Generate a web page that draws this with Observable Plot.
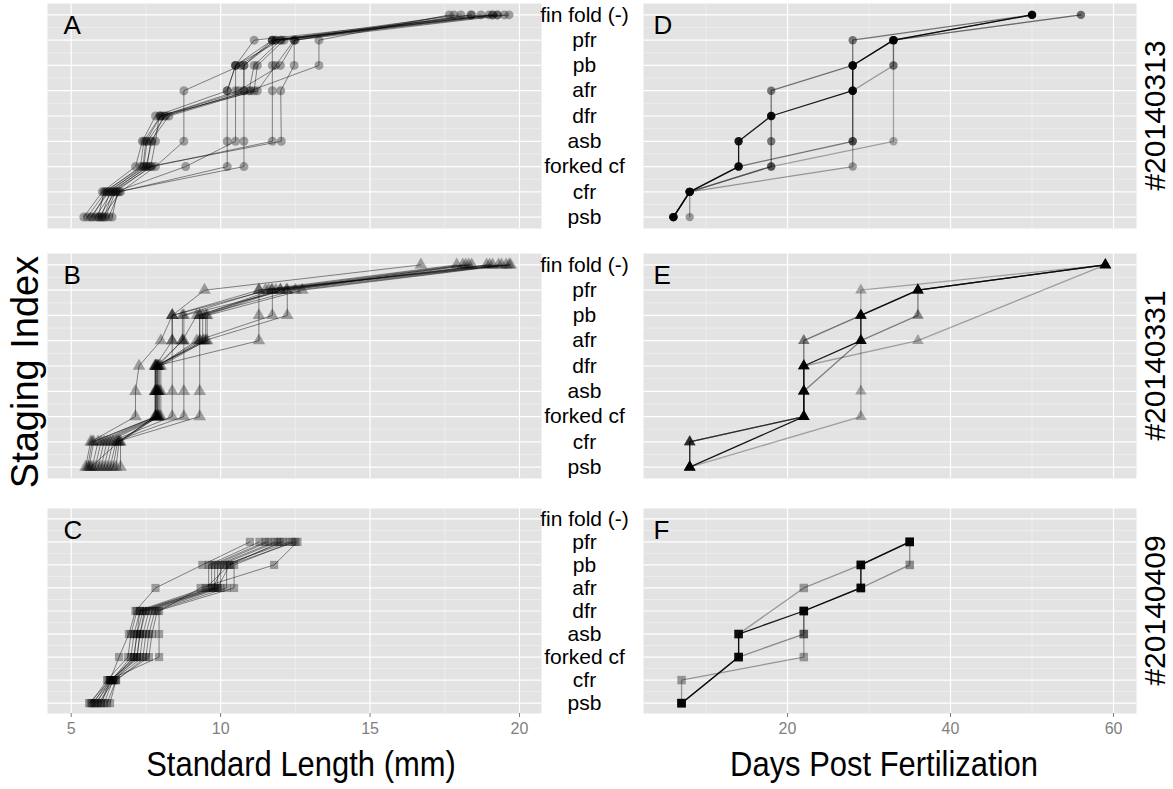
<!DOCTYPE html>
<html>
<head>
<meta charset="utf-8">
<script src="https://cdn.jsdelivr.net/npm/d3@7"></script>
<script src="https://cdn.jsdelivr.net/npm/@observablehq/plot@0.6"></script>
<style>
  body { margin: 0; background: #fff; }
  #chart { position: relative; width: 1173px; height: 789px; overflow: hidden; background: #fff;
           font-family: "Liberation Sans", Arial, Helvetica, sans-serif; }
</style>
</head>
<body>
<div id="chart"></div>
<script>
// ---------------- data ----------------
const stages = ["psb", "cfr", "forked cf", "asb", "dfr", "afr", "pb", "pfr", "fin fold (-)"];
const stageTicks = [1, 2, 3, 4, 5, 6, 7, 8, 9];
const stageMinor = [1.5, 2.5, 3.5, 4.5, 5.5, 6.5, 7.5, 8.5];
const slTicks = [5, 10, 15, 20];
const slMinor = [7.5, 12.5, 17.5];
const dpfTicks = [20, 40, 60];
const dpfMinor = [10, 30, 50];
const strips = ["#20140313", "#20140331", "#20140409"];
const letters = ["A", "B", "C", "D", "E", "F"];
const xTitles = ["Standard Length (mm)", "Days Post Fertilization"];
const yTitle = "Staging Index";

// Standard length (mm) per fish at each stage: psb, cfr, forked cf, asb, dfr, afr, pb, pfr, fin fold (-)
const slA = [
  [5.42, 6.04, 7.15, 7.38, 7.82, 10.22, 10.50, 11.12, 18.98],
  [5.54, 6.15, 7.32, 7.43, 7.99, 10.78, 10.78, 11.73, 19.10],
  [5.65, 6.26, 7.43, 7.54, 8.16, 10.95, 11.12, 12.01, 19.26],
  [5.81, 6.37, 7.54, 7.66, 8.27, 11.12, 11.23, 12.12, 19.49],
  [5.93, 6.48, 7.66, 7.82, 7.95, 11.23, 11.84, 12.46, 19.65],
  [6.04, 6.65, 7.82, 8.77, null, 8.77, 10.67, 11.84, 19.10],
  [6.26, 6.60, 10.22, 10.22, null, 10.22, 10.50, 11.73, 18.71],
  [6.37, 6.55, 10.78, 10.78, null, 10.78, 10.78, 11.84, 19.26],
  [6.15, 6.48, 8.83, 10.50, null, 10.50, 10.50, 12.01, 18.37],
  [6.10, 6.40, 7.70, 11.73, null, 11.73, 11.73, 11.73, 18.04],
  [6.00, 6.30, 7.60, 12.03, null, 12.01, 12.46, 12.46, 17.81],
  [5.70, 6.20, 7.50, 7.70, 8.10, 11.00, 13.29, 13.29, 17.65],
  [5.90, 6.10, 7.40, 7.50, 8.00, 10.60, 12.00, 12.50, 18.40]
];
const slB = [
  [5.48, 5.65, 7.15, 7.15, 7.27, 8.00, 8.38, 9.46, 16.70],
  [5.60, 5.75, 7.82, 7.82, 7.82, 8.38, 8.38, 11.28, 17.90],
  [5.70, 5.90, 7.85, 7.85, 7.85, 8.72, 8.72, 11.50, 18.10],
  [5.80, 6.00, 7.90, 7.90, 7.90, 9.30, 9.30, 11.70, 18.30],
  [5.90, 6.10, 7.95, 7.95, 7.95, 9.40, 9.40, 11.85, 18.90],
  [6.00, 6.20, 8.00, 8.00, 8.00, 9.50, 9.50, 12.00, 19.10],
  [6.10, 6.30, 8.38, 8.38, null, 8.38, 8.38, 11.60, 19.30],
  [6.20, 6.40, 8.77, 8.77, null, 8.77, 8.77, 12.20, 19.40],
  [6.30, 6.50, 9.30, 9.30, null, 9.30, 9.30, 12.50, 19.55],
  [6.50, 6.60, 7.82, 7.82, 7.82, 11.28, 11.28, 11.28, 19.70],
  [6.65, 6.65, 7.90, 7.90, 7.90, 9.20, 11.73, 11.73, 19.00],
  [5.55, 5.70, 7.85, 7.85, 7.85, 9.45, 12.23, 12.23, 18.40],
  [5.65, 6.60, 7.80, 7.80, 7.80, 9.55, 9.55, 12.73, 19.65],
  [6.40, 6.55, 7.90, 7.90, 7.90, 8.72, 9.20, 12.00, 18.20]
];
const slC = [
  [5.60, 6.30, 6.60, 6.93, 7.15, 7.82, 9.39, 10.98, null],
  [5.70, 6.35, 7.00, 7.10, 7.30, 9.60, 9.60, 11.30, null],
  [5.80, 6.40, 7.10, 7.20, 7.40, 9.70, 9.70, 11.50, null],
  [5.90, 6.45, 7.20, 7.30, 7.50, 9.80, 9.80, 11.60, null],
  [6.00, 6.30, 7.30, 7.40, 7.60, 9.90, 9.90, 11.80, null],
  [6.10, 6.40, 7.40, 7.50, 7.70, 10.00, 10.00, 11.90, null],
  [6.20, 6.50, 7.50, 7.60, 7.80, 10.20, 10.20, 12.10, null],
  [6.30, 6.50, 7.60, 7.70, 7.88, 10.45, 10.45, 12.40, null],
  [5.75, 6.25, 7.94, 7.94, 7.94, 9.33, 11.79, 12.57, null],
  [5.65, 6.20, 6.90, 7.00, 7.20, 9.50, 10.30, 12.00, null],
  [6.00, 6.35, 7.10, 7.20, 7.30, 9.75, 10.10, 12.30, null],
  [5.85, 6.30, 7.20, 7.30, 7.45, 9.90, 10.30, 12.50, null]
];

// Days post fertilization per group at each stage (same stage order)
const dpfD = [
  [6, 8, 14, 14, 18, 28, 28, 33, 50],
  [6, 8, 14, 28, null, 28, 28, 28, 50],
  [6, 8, 18, 18, 18, 18, 28, 33, 50],
  [8, 8, 28, 28, null, 28, 33, 33, 56],
  [6, 8, 18, 33, null, null, 33, 33, 56]
];
const alphaD = [0.9, 0.5, 0.5, 0.35, 0.3];
const dpfE = [
  [8, null, 22, 22, 22, 29, 29, 36, 59],
  [8, 8, 22, 22, 22, 22, 29, 36, 59],
  [8, 8, 22, 22, null, 29, 36, 36, 59],
  [8, null, 29, 29, null, 29, 29, 29, 59],
  [8, 8, 22, null, 22, 36, null, null, 59]
];
const alphaE = [0.9, 0.5, 0.45, 0.3, 0.3];
const dpfF = [
  [7, null, 14, 14, 22, 29, 29, 35, null],
  [7, null, 14, 14, null, 22, 29, 35, null],
  [7, null, 14, 22, 22, 29, 35, 35, null],
  [7, 7, 22, 22, 22, 29, 29, 35, null]
];
const alphaF = [0.9, 0.35, 0.4, 0.35];

// ---------------- layout ----------------
const FONT = '"Liberation Sans", Arial, Helvetica, sans-serif';
const BG = "#E3E3E3";
const rows = [{top: 3, h: 225}, {top: 253, h: 225}, {top: 508, h: 205}];
const leftX = 47, leftW = 494;
const rightPanelX = 643, rightW = 493, rightML = 110;
const AXIS_H = 32;
const chart = document.getElementById("chart");

function toRecords(table) {
  return table.flatMap((vals, id) =>
    vals.map((v, j) => ({id, v, s: j + 1})).filter(d => d.v != null));
}

function gridMarks(xMinor, xMajor) {
  return [
    Plot.frame({fill: BG, stroke: "none"}),
    Plot.ruleX(xMinor, {stroke: "#F4F4F4", strokeWidth: 0.6}),
    Plot.ruleY(stageMinor, {stroke: "#F4F4F4", strokeWidth: 0.6}),
    Plot.ruleX(xMajor, {stroke: "white", strokeWidth: 1.2}),
    Plot.ruleY(stageTicks, {stroke: "white", strokeWidth: 1.2})
  ];
}

function place(svg, left, top) {
  svg.style.position = "absolute";
  svg.style.left = left + "px";
  svg.style.top = top + "px";
  svg.style.overflow = "visible";
  svg.style.maxWidth = "none";
  chart.appendChild(svg);
}

function letterMark(letter, dx) {
  return Plot.text([letter], {frameAnchor: "top-left", dx, dy: 12, fontSize: 26,
    textAnchor: "start", lineAnchor: "top", fill: "black"});
}

function leftPanel(table, symbol, r, letter, row, withAxis) {
  const recs = toRecords(table);
  const mb = withAxis ? AXIS_H : 0;
  const svg = Plot.plot({
    width: leftW, height: row.h + mb,
    marginLeft: 0, marginRight: 0, marginTop: 0, marginBottom: mb,
    style: {fontFamily: FONT, background: "transparent", overflow: "visible", color: "black"},
    x: {domain: [4.207, 20.736], ...(withAxis ? {} : {axis: null})},
    y: {domain: [0.55, 9.45], axis: null},
    marks: [
      ...gridMarks(slMinor, slTicks),
      Plot.line(recs, {x: "v", y: "s", z: "id", stroke: "black", strokeOpacity: 0.45, strokeWidth: 1}),
      Plot.dot(recs, {x: "v", y: "s", symbol, r, fill: "black", fillOpacity: 0.33, stroke: "none"}),
      letterMark(letter, 16),
      ...(withAxis ? [Plot.axisX(slTicks, {tickSize: 4, tickPadding: 5, fontSize: 16, color: "#7F7F7F", label: null})] : [])
    ]
  });
  place(svg, leftX, row.top);
}

function rightPanel(table, alphas, symbol, r, letter, row, withAxis) {
  const series = table.map((vals, id) => toRecords([vals]));
  const mb = withAxis ? AXIS_H : 0;
  const svg = Plot.plot({
    width: rightW + rightML, height: row.h + mb,
    marginLeft: rightML, marginRight: 0, marginTop: 0, marginBottom: mb,
    style: {fontFamily: FONT, background: "transparent", overflow: "visible", color: "black"},
    x: {domain: [2.33, 62.82], ...(withAxis ? {} : {axis: null})},
    y: {domain: [0.55, 9.45]},
    marks: [
      ...gridMarks(dpfMinor, dpfTicks),
      ...series.map((recs, i) => Plot.line(recs, {x: "v", y: "s", stroke: "black", strokeOpacity: alphas[i], strokeWidth: 1.3})),
      ...series.map((recs, i) => Plot.dot(recs, {x: "v", y: "s", symbol, r, fill: "black", fillOpacity: alphas[i], stroke: "none"})),
      letterMark(letter, 10),
      Plot.axisY(stageTicks, {tickFormat: d => stages[d - 1], tickSize: 0, tickPadding: 59,
        textAnchor: "middle", fontSize: 21, color: "black", label: null}),
      ...(withAxis ? [Plot.axisX(dpfTicks, {tickSize: 4, tickPadding: 5, fontSize: 16, color: "#7F7F7F", label: null})] : [])
    ]
  });
  place(svg, rightPanelX - rightML, row.top);
}

leftPanel(slA, "circle", 4.5, letters[0], rows[0], false);
leftPanel(slB, "triangle", 4.7, letters[1], rows[1], false);
leftPanel(slC, "square", 4.6, letters[2], rows[2], true);
rightPanel(dpfD, alphaD, "circle", 4.2, letters[3], rows[0], false);
rightPanel(dpfE, alphaE, "triangle", 4.3, letters[4], rows[1], false);
rightPanel(dpfF, alphaF, "square", 4.8, letters[5], rows[2], true);

// ---------------- titles & strip labels ----------------
const ov = d3.create("svg")
  .attr("width", 1173).attr("height", 789)
  .attr("font-family", FONT)
  .style("position", "absolute").style("left", "0px").style("top", "0px")
  .style("pointer-events", "none");

ov.append("text")
  .attr("transform", "translate(301,776) scale(0.86,1)")
  .attr("text-anchor", "middle").attr("font-size", 36).attr("fill", "black")
  .text(xTitles[0]);
ov.append("text")
  .attr("transform", "translate(884,776) scale(0.86,1)")
  .attr("text-anchor", "middle").attr("font-size", 36).attr("fill", "black")
  .text(xTitles[1]);
ov.append("text")
  .attr("transform", "translate(38,372) rotate(-90)")
  .attr("text-anchor", "middle").attr("font-size", 38).attr("fill", "black")
  .text(yTitle);
strips.forEach((s, i) => {
  const cy = rows[i].top + rows[i].h / 2;
  ov.append("text")
    .attr("transform", `translate(1165,${cy}) rotate(-90)`)
    .attr("text-anchor", "middle").attr("font-size", 30).attr("fill", "black")
    .text(s);
});
chart.appendChild(ov.node());
</script>
</body>
</html>
